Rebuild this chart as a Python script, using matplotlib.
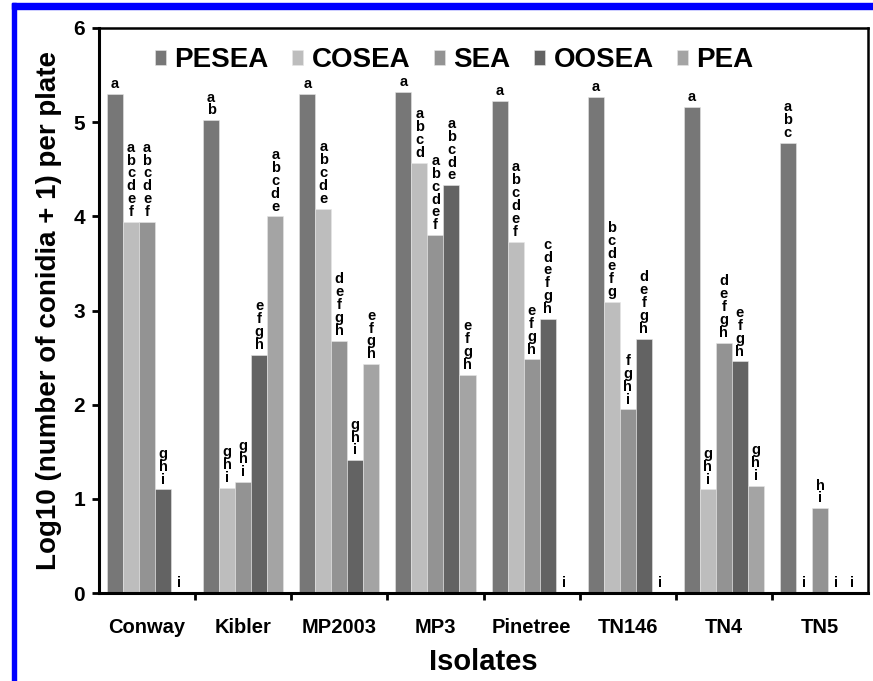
import numpy as np
import matplotlib
matplotlib.use("Agg")
import matplotlib.pyplot as plt
from matplotlib.patches import Rectangle

plt.rcParams["font.family"] = ["Liberation Sans", "DejaVu Sans"]

isolates = ["Conway", "Kibler", "MP2003", "MP3", "Pinetree", "TN146", "TN4", "TN5"]
media = ["PESEA", "COSEA", "SEA", "OOSEA", "PEA"]
colors = ["#777777", "#bdbdbd", "#939393", "#636363", "#a4a4a4"]

# log10(conidia + 1) per plate, one list per medium across isolates
pesea = [5.30, 5.02, 5.30, 5.32, 5.23, 5.27, 5.16, 4.78]
cosea = [3.94, 1.12, 4.08, 4.57, 3.73, 3.09, 1.10, 0.00]
sea = [3.94, 1.18, 2.68, 3.80, 2.48, 1.95, 2.66, 0.90]
oosea = [1.10, 2.53, 1.41, 4.33, 2.91, 2.70, 2.46, 0.00]
pea = [0.00, 4.00, 2.43, 2.32, 0.00, 0.00, 1.14, 0.00]

# mean separation letters
pesea_grp = ["a", "ab", "a", "a", "a", "a", "a", "abc"]
cosea_grp = ["abcdef", "ghi", "abcde", "abcd", "abcdef", "bcdefg", "ghi", "i"]
sea_grp = ["abcdef", "ghi", "defgh", "abcdef", "efgh", "fghi", "defgh", "hi"]
oosea_grp = ["ghi", "efgh", "ghi", "abcde", "cdefgh", "defgh", "efgh", "i"]
pea_grp = ["i", "abcde", "efgh", "efgh", "i", "i", "ghi", "i"]

values = [pesea, cosea, sea, oosea, pea]
groups = [pesea_grp, cosea_grp, sea_grp, oosea_grp, pea_grp]

fig = plt.figure(figsize=(8.73, 6.81), dpi=100)
ax = fig.add_axes([0.1134, 0.1292, 0.8809, 0.8297])

x = np.arange(len(isolates))
w = 1 / 6
for i, (name, vals, grp, c) in enumerate(zip(media, values, groups, colors)):
    pos = x + (i - 2) * w
    ax.bar(pos, vals, width=w, color=c, edgecolor="#e6e6e6", linewidth=0.4,
           label=name, zorder=2)
    for px, v, g in zip(pos, vals, grp):
        ax.text(px, v + 0.03, "\n".join(g), ha="center", va="bottom",
                fontsize=10.5, fontweight="bold", linespacing=0.9,
                bbox=dict(facecolor="white", edgecolor="none", pad=0.3),
                zorder=3)

ax.set_xlim(-0.5, len(isolates) - 0.5)
ax.set_ylim(0, 6)
ax.set_yticks(range(7))
ax.set_xticks(x)
ax.set_xticklabels(isolates, fontsize=14.5, fontweight="bold")
ax.set_xticks(x[:-1] + 0.5, minor=True)
ax.tick_params(axis="x", which="major", length=0, pad=18)
ax.tick_params(axis="x", which="minor", length=5, width=2, direction="out")
ax.tick_params(axis="y", length=5, width=2, direction="out", labelsize=15, pad=5)
for lab in ax.get_yticklabels():
    lab.set_fontweight("bold")

for side in ["left", "bottom"]:
    ax.spines[side].set_linewidth(2.2)
for side in ["top", "right"]:
    ax.spines[side].set_linewidth(1.8)

ax.set_ylabel("Log10 (number of conidia + 1) per plate", fontsize=20,
              fontweight="bold", labelpad=8)
ax.set_xlabel("Isolates", fontsize=21, fontweight="bold", labelpad=8)

leg = ax.legend(loc="upper center", ncol=5, frameon=False,
                bbox_to_anchor=(0.462, 1.0),
                prop={"size": 20, "weight": "bold"},
                handlelength=0.4, handleheight=0.4, handletextpad=0.3,
                columnspacing=0.85, borderaxespad=0.3)

# blue frame along the top and left edges
fig.patches.append(Rectangle((12 / 873, 0), 4 / 873, 1 - 3 / 681,
                             transform=fig.transFigure, color="#0000ff"))
fig.patches.append(Rectangle((12 / 873, 1 - 9 / 681), 1, 6 / 681,
                             transform=fig.transFigure, color="#0000ff"))

fig.savefig("out.png", dpi=100)
